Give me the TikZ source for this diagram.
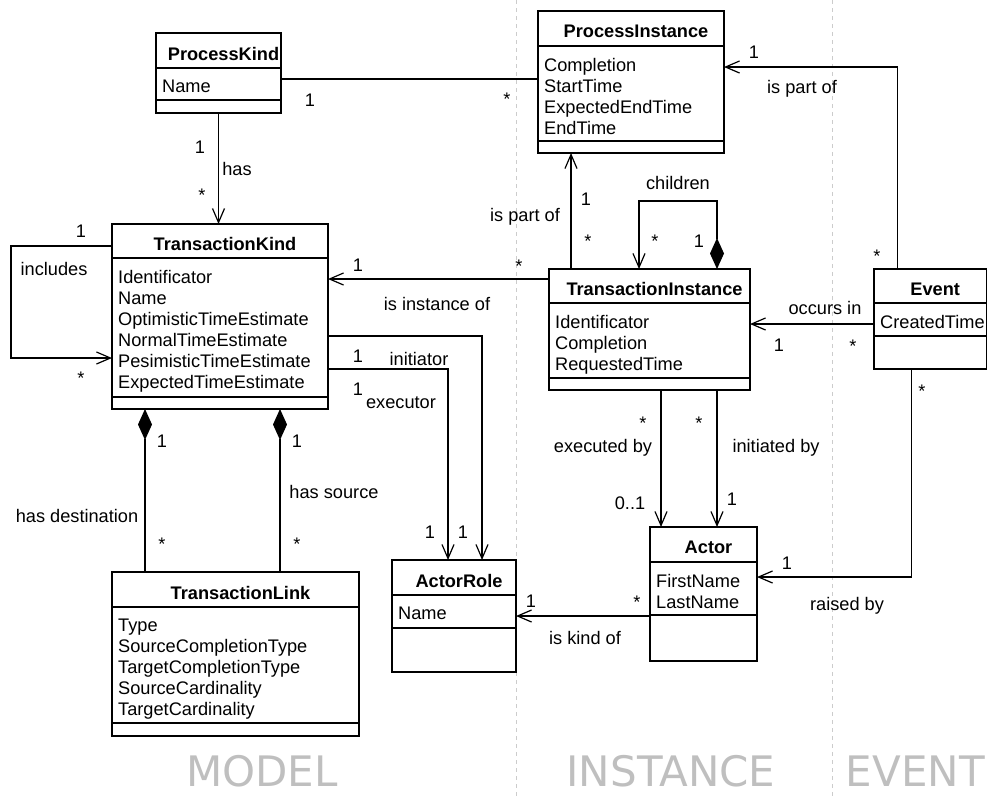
\documentclass[tikz,border=0pt]{standalone}
\usepackage{fontspec}
\setmainfont{Liberation Sans}
\newfontfamily\lanefont{DejaVu Sans}
\usetikzlibrary{arrows.meta}

\newcommand\umlclass[8]{%
  \node[classbox, minimum width=#3pt, minimum height=#4pt] (#1) at (#2) {};
  \draw[line] ([yshift=-#5pt]#1.north west) -- ([yshift=-#5pt]#1.north east);
  \draw[line] ([yshift=-#6pt]#1.north west) -- ([yshift=-#6pt]#1.north east);
  \node[classname] (#1-name) at ([xshift=5pt,yshift=-#5pt/2-3pt]#1.north) {#7};
  \node[classattr] (#1-attr) at ([xshift=6pt,yshift=-#5pt-12pt]#1.north west) {#8};
}

\begin{document}
\begin{tikzpicture}[x=1pt, y=-1pt,
  font=\fontsize{18.2}{21}\selectfont,
  line/.style={line width=1.2pt},
  classbox/.style={draw, line width=1.2pt, anchor=north west, inner sep=0pt, outer sep=0pt},
  classname/.style={font=\fontsize{18.2}{21}\selectfont\bfseries, inner sep=0pt},
  classattr/.style={align=left, anchor=north west, inner sep=0pt},
  lbl/.style={inner sep=0pt},
  assoc/.style={line, -{Straight Barb[length=14pt,width=12pt]}},
  comp/.style={line, {Diamond[length=31pt,width=14pt]}-},
  compassoc/.style={line, {Diamond[length=31pt,width=14pt]}-{Straight Barb[length=14pt,width=12pt]}},
  lane/.style={black!20, line width=0.8pt, dash pattern=on 4pt off 4pt},
  lanename/.style={font=\lanefont\fontsize{42}{42}\selectfont, text=black!25, inner sep=0pt}]
\useasboundingbox (0,0) rectangle (987,796);
\draw[lane] (516,0) -- (516,796);
\draw[lane] (832,0) -- (832,796);
\node[lanename] (model) at (262,771) {MODEL};
\node[lanename] (instance) at (671,771) {INSTANCE};
\node[lanename, anchor=east] (event) at (985,771) {EVENT};

\umlclass{PK}{156,33}{125}{80}{35}{67}{ProcessKind}{Name}
\umlclass{TK}{112,224}{216}{185}{34}{173}{TransactionKind}{Identificator\\Name\\OptimisticTimeEstimate\\NormalTimeEstimate\\PesimisticTimeEstimate\\ExpectedTimeEstimate}
\umlclass{PI}{538,11}{186}{142}{35}{130}{ProcessInstance}{Completion\\StartTime\\ExpectedEndTime\\EndTime}
\umlclass{TI}{549,269}{201}{121}{34}{109}{TransactionInstance}{Identificator\\Completion\\RequestedTime}
\umlclass{Event}{874,269}{112.5}{100}{34}{67}{Event}{CreatedTime}
\umlclass{Actor}{650,527}{107}{134}{35}{88}{Actor}{FirstName\\LastName}
\umlclass{AR}{392,560}{124}{112}{35}{68}{ActorRole}{Name}
\umlclass{TL}{112,572}{247}{164}{35}{151}{TransactionLink}{Type\\SourceCompletionType\\TargetCompletionType\\SourceCardinality\\TargetCardinality}

\draw[line] ([yshift=-6pt]PK.east) coordinate (pk-pi) -- (pk-pi -| PI.west);
\draw[assoc] (PK.south) -- (PK.south |- TK.north);
\draw[assoc] ([yshift=70.5pt]TK.west) -- ++(-101,0) |- ([yshift=-41.5pt]TK.west);
\draw[assoc] ([yshift=50.5pt]TI.west) coordinate (ti-tk) -- (ti-tk -| TK.east);
\draw[assoc] ([yshift=-19.5pt]TK.east) -| ([xshift=28pt]AR.north);
\draw[assoc] ([yshift=-52.5pt]TK.east) -| ([xshift=-6pt]AR.north);
\draw[comp] ([xshift=-75pt]TK.south) coordinate (tk-dst) -- (tk-dst |- TL.north);
\draw[comp] ([xshift=60pt]TK.south) coordinate (tk-src) -- (tk-src |- TL.north);
\draw[assoc] ([xshift=-78.5pt]TI.north) coordinate (ti-pi) -- (ti-pi |- PI.south);
\draw[compassoc] ([xshift=67.5pt]TI.north) -- ++(0,-68) -| ([xshift=-10.5pt]TI.north);
\draw[assoc] ([xshift=-33pt]Event.north) |- ([yshift=15pt]PI.east);
\draw[assoc] ([yshift=-5pt]Event.west) coordinate (ev-ti) -- (ev-ti -| TI.east);
\draw[assoc] ([xshift=-19pt]Event.south) |- ([yshift=17pt]Actor.east);
\draw[assoc] ([xshift=11.5pt]TI.south) coordinate (ti-ex) -- (ti-ex |- Actor.north);
\draw[assoc] ([xshift=67.5pt]TI.south) coordinate (ti-in) -- (ti-in |- Actor.north);
\draw[assoc] ([yshift=-22pt]Actor.west) coordinate (ac-ar) -- (ac-ar -| AR.east);

\node[lbl] (pk-pi-1) at (310,100) {1};
\node[lbl] (pk-pi-n) at (507,99) {*};
\node[lbl] (has-1) at (200,147) {1};
\node[lbl] (has) at (237,169) {has};
\node[lbl] (has-n) at (202,195) {*};
\node[lbl] (incl-1) at (81,231) {1};
\node[lbl] (incl) at (54,269) {includes};
\node[lbl] (incl-n) at (81,378) {*};
\node[lbl] (inst-1) at (358,265) {1};
\node[lbl] (inst-n) at (519,266) {*};
\node[lbl] (inst) at (437,304) {is instance of};
\node[lbl] (init-1) at (358,356) {1};
\node[lbl] (init) at (419,359) {initiator};
\node[lbl] (exec-1) at (358,389) {1};
\node[lbl] (exec) at (401,403) {executor};
\node[lbl] (exec-2) at (430,532) {1};
\node[lbl] (init-2) at (463,532) {1};
\node[lbl] (dst-1) at (162,441) {1};
\node[lbl] (dst) at (77,516) {has destination};
\node[lbl] (dst-n) at (162,544) {*};
\node[lbl] (src-1) at (297,441) {1};
\node[lbl] (src) at (334,492) {has source};
\node[lbl] (src-n) at (297,544) {*};
\node[lbl] (tipi-1) at (586,199) {1};
\node[lbl] (tipi-n) at (588,241) {*};
\node[lbl] (tipi) at (525,217) {is part of};
\node[lbl] (child) at (678,183) {children};
\node[lbl] (child-n) at (655,241) {*};
\node[lbl] (child-1) at (699,241) {1};
\node[lbl] (evpi-1) at (754,52) {1};
\node[lbl] (evpi) at (802,89) {is part of};
\node[lbl] (evpi-n) at (877,256) {*};
\node[lbl] (occ) at (825,308) {occurs in};
\node[lbl] (occ-1) at (779,345) {1};
\node[lbl] (occ-n) at (853,346) {*};
\node[lbl] (raise-1) at (787,563) {1};
\node[lbl] (raise) at (847,606) {raised by};
\node[lbl] (raise-n) at (922,391) {*};
\node[lbl] (exby-n) at (643,423) {*};
\node[lbl] (exby) at (603,448) {executed by};
\node[lbl] (exby-1) at (630,503) {0..1};
\node[lbl] (inby-n) at (699,423) {*};
\node[lbl] (inby) at (776,448) {initiated by};
\node[lbl] (inby-1) at (732,499) {1};
\node[lbl] (kind-1) at (531,601) {1};
\node[lbl] (kind-n) at (637,602) {*};
\node[lbl] (kind) at (585,638) {is kind of};
\end{tikzpicture}
\end{document}
